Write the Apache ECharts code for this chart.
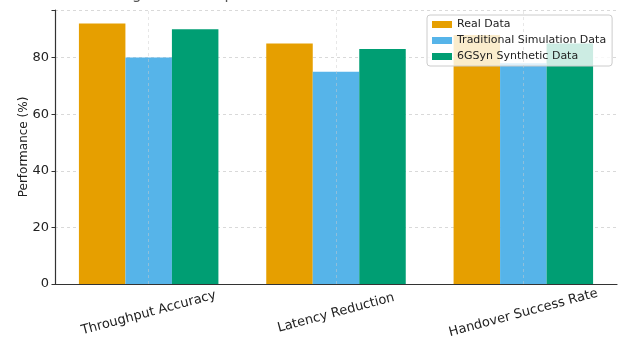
<!DOCTYPE html>
<html>
<head>
<meta charset="utf-8">
<script src="https://cdn.jsdelivr.net/npm/echarts@6/dist/echarts.min.js"></script>
<style>
  html, body { margin: 0; padding: 0; background: #fff; }
  #chart { width: 620px; height: 338px; }
</style>
</head>
<body>
<div id="chart"></div>
<script>
// Metric groups along the x axis
const categories = ['Throughput Accuracy', 'Latency Reduction', 'Handover Success Rate'];

// Performance (%) per data source
const realData = [92, 85, 88];
const traditionalSimData = [80, 75, 78];
const syntheticData = [90, 83, 85];

const yTicks = [0, 20, 40, 60, 80];

const FONT = 'DejaVu Sans';

const chart = echarts.init(document.getElementById('chart'), null, { renderer: 'canvas' });

function barSeries(name, values, color, extra) {
  return Object.assign({
    name: name,
    type: 'bar',
    data: values,
    barWidth: 46.5,
    barGap: '0%',
    itemStyle: { color: color },
    emphasis: { disabled: true }
  }, extra || {});
}

// vertical grid lines through each category centre
const categoryGrid = {
  silent: true,
  symbol: 'none',
  label: { show: false },
  lineStyle: { color: 'rgba(205,205,205,0.6)', type: [3, 3], width: 0.8 },
  data: categories.map(function (c) { return { xAxis: c }; })
};

chart.setOption({
  animation: false,
  backgroundColor: '#ffffff',
  title: {
    text: 'Figure 2: Comparison of Performance on AI Models',
    left: 'center',
    top: -17,
    textStyle: { fontFamily: FONT, fontSize: 15, fontWeight: 'normal', color: '#555' }
  },
  legend: {
    orient: 'vertical',
    left: 427,
    top: 15,
    itemWidth: 20,
    itemHeight: 7,
    itemGap: 5,
    padding: [4, 6, 4, 5],
    backgroundColor: 'rgba(255,255,255,0.8)',
    borderColor: '#cccccc',
    borderWidth: 1,
    borderRadius: 3,
    icon: 'rect',
    textStyle: { fontFamily: FONT, fontSize: 11, color: '#222' },
    data: ['Real Data', 'Traditional Simulation Data', '6GSyn Synthetic Data']
  },
  grid: { left: 55, right: 3, top: 10, bottom: 54, outerBoundsMode: 'none' },
  xAxis: {
    type: 'category',
    data: categories,
    boundaryGap: true,
    axisLine: { lineStyle: { color: '#333', width: 1.2 } },
    axisTick: { alignWithLabel: true, length: 3.5, lineStyle: { color: '#333' } },
    axisLabel: {
      rotate: 15,
      align: 'center',
      verticalAlign: 'middle',
      margin: 29,
      fontFamily: FONT,
      fontSize: 13,
      color: '#222'
    },
    splitLine: { show: false }
  },
  yAxis: {
    type: 'value',
    min: 0,
    max: 96.8,
    interval: 20,
    name: 'Performance (%)',
    nameLocation: 'middle',
    nameGap: 25,
    nameMoveOverlap: false,
    nameTextStyle: { fontFamily: FONT, fontSize: 12, color: '#222' },
    axisLine: { show: true, lineStyle: { color: '#333', width: 1.2 } },
    axisTick: { show: true, length: 3.5, lineStyle: { color: '#333' } },
    axisLabel: {
      fontFamily: FONT,
      fontSize: 13,
      color: '#222',
      margin: 6,
      formatter: function (v) { return yTicks.indexOf(v) >= 0 ? String(v) : ''; }
    },
    splitLine: { show: true, lineStyle: { color: '#d0d0d0', type: [3, 3], width: 0.8 } }
  },
  series: [
    barSeries('Real Data', realData, '#E69F00'),
    barSeries('Traditional Simulation Data', traditionalSimData, '#56B4E9', { markLine: categoryGrid }),
    barSeries('6GSyn Synthetic Data', syntheticData, '#009E73')
  ]
});
</script>
</body>
</html>
